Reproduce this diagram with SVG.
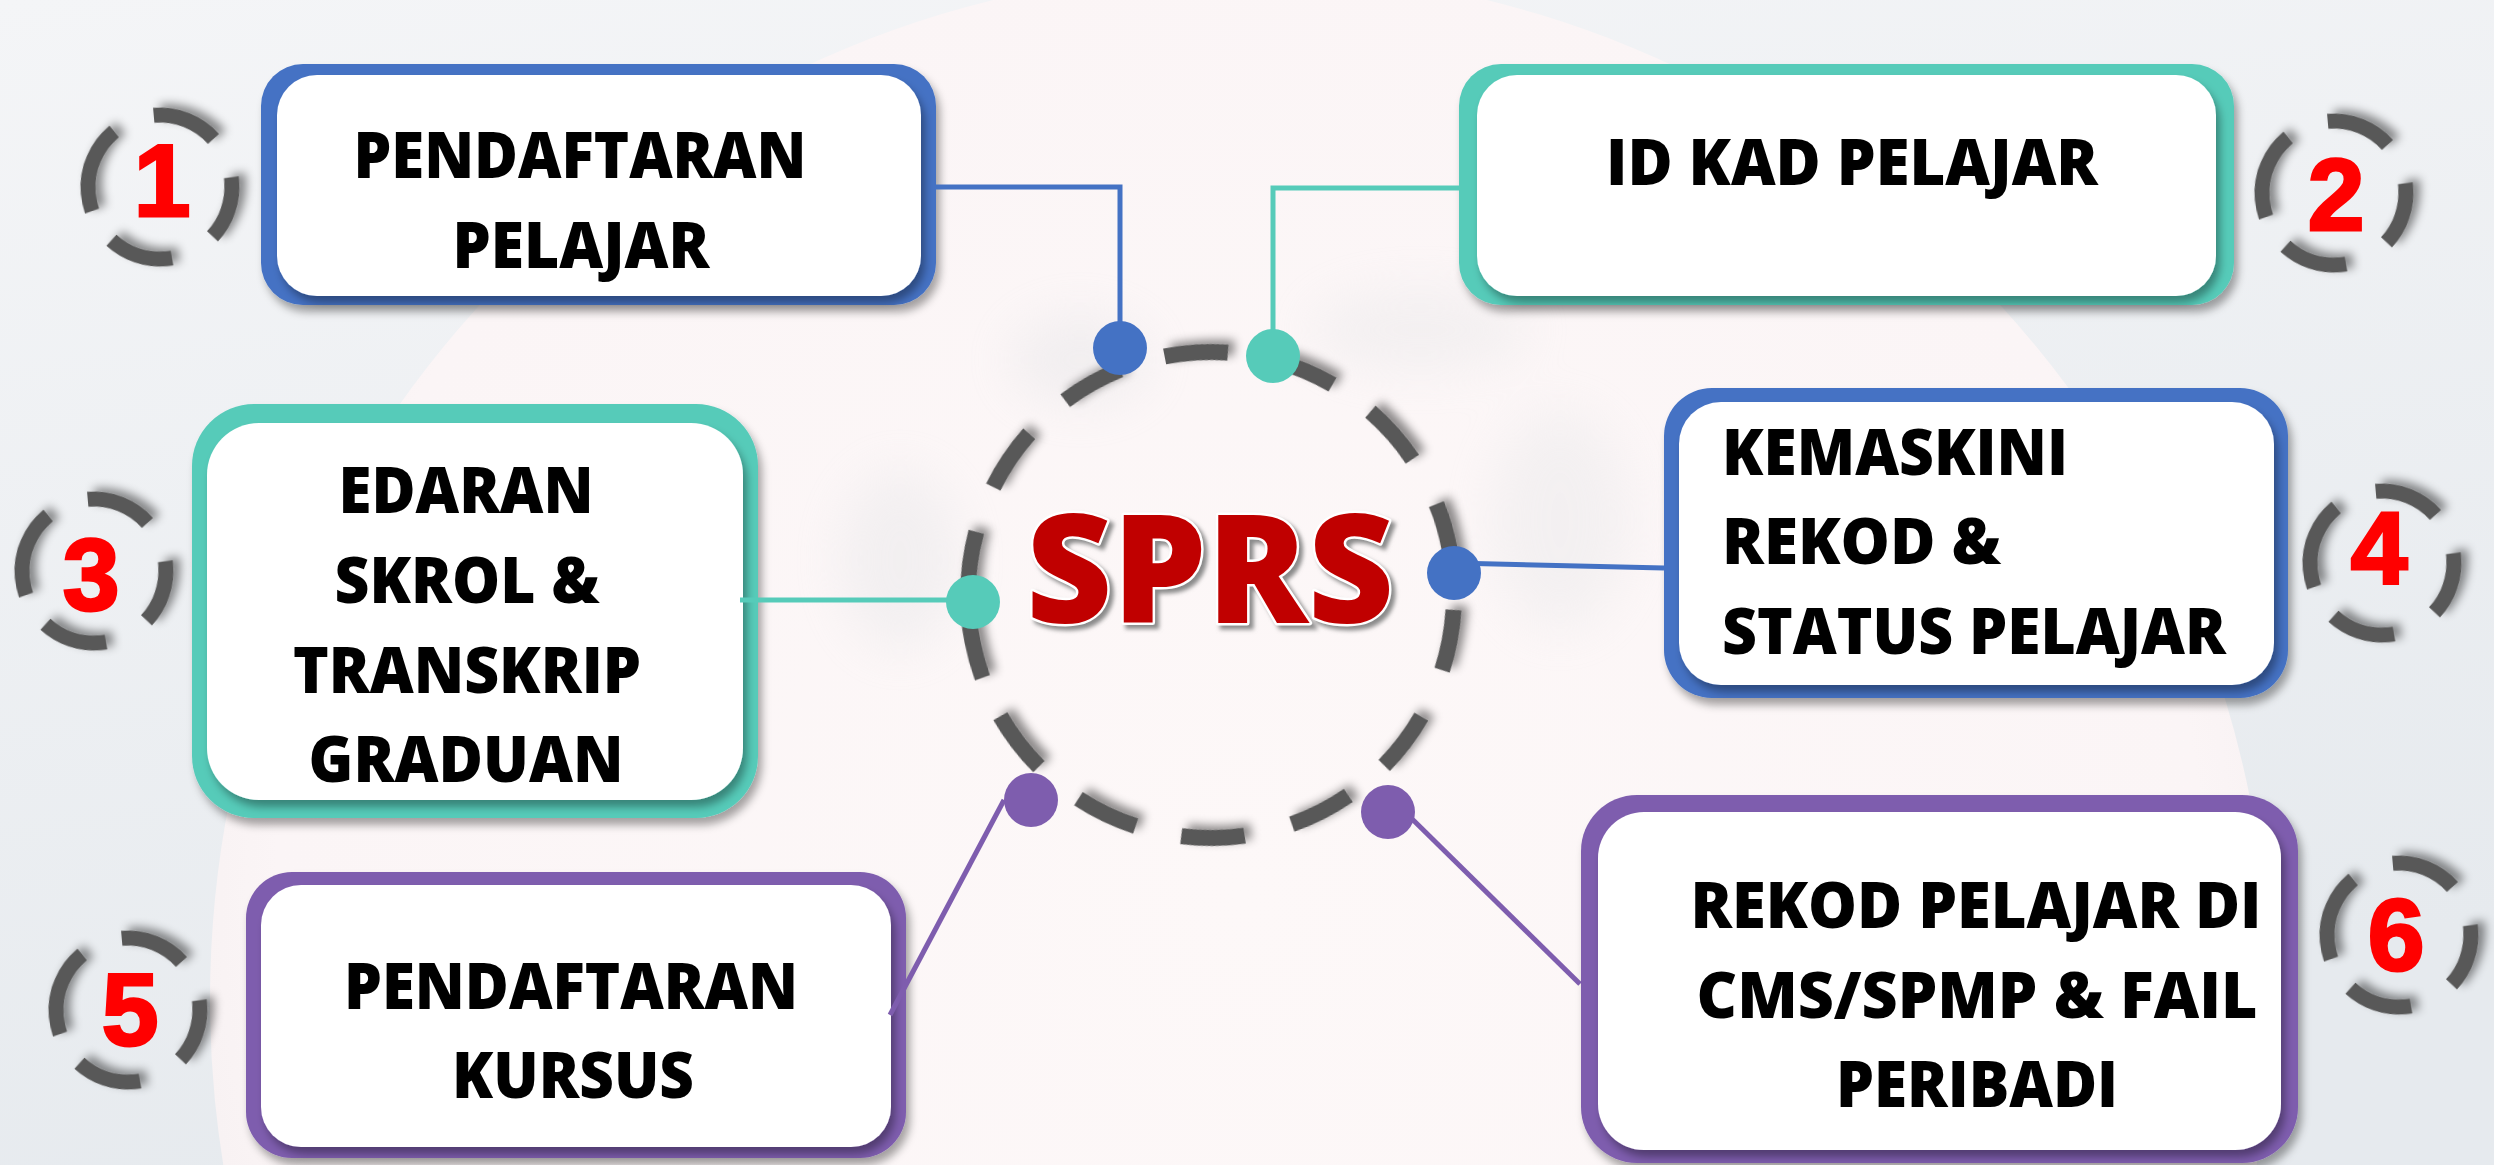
<svg xmlns="http://www.w3.org/2000/svg" width="2494" height="1165" viewBox="0 0 2494 1165">
  <defs>
    <linearGradient id="bg" x1="0" y1="0" x2="0.3" y2="1">
      <stop offset="0" stop-color="#f4f5f7"/>
      <stop offset="1" stop-color="#e6eaee"/>
    </linearGradient>
    <radialGradient id="globe" cx="0.5" cy="0.45" r="0.55">
      <stop offset="0" stop-color="#fdf8f8"/>
      <stop offset="0.85" stop-color="#fbf5f6"/>
      <stop offset="1" stop-color="#f5eff0"/>
    </radialGradient>
    <filter id="boxShadow" x="-10%" y="-10%" width="125%" height="130%">
      <feDropShadow dx="4" dy="7" stdDeviation="4" flood-color="#000" flood-opacity="0.35"/>
    </filter>
    <filter id="dashShadow" x="-20%" y="-20%" width="140%" height="140%">
      <feDropShadow dx="3" dy="7" stdDeviation="5" flood-color="#000" flood-opacity="0.45"/>
    </filter>
    <filter id="soft" x="-20%" y="-20%" width="140%" height="140%">
      <feGaussianBlur stdDeviation="2"/>
    </filter>
    <filter id="blob" x="-50%" y="-50%" width="200%" height="200%">
      <feGaussianBlur stdDeviation="25"/>
    </filter>
  </defs>
  <style>
    .outer-blue { fill: #4472c4; }
    .outer-teal { fill: #56cbb9; }
    .outer-purple { fill: #7e5dae; }
    .inner { fill: #ffffff; }
    .label { font-family: "Open Sans", "Liberation Sans", sans-serif; font-weight: 800; font-size: 64px; fill: #000000; }
    .mid { text-anchor: middle; }
    .num { font-family: "Liberation Sans", Arial, sans-serif; font-weight: 700; font-size: 102px; fill: #ff0000; stroke: #ff0000; stroke-width: 3; text-anchor: middle; }
    .ring { fill: none; stroke: #595959; stroke-width: 15; stroke-dasharray: 66.6 42.7 64.1 46.5 65.3 35.2 88 44; }
    .hubring { fill: none; stroke: #595959; stroke-width: 16; stroke-dasharray: 63.6 46.65 63.6 46.65 63.6 50.9 63.6 44.5 61.5 50.9 61.5 46.65 63.6 48.8 63.6 46.65 63.6 50.9 63.6 42.4 63.6 21.2 63.6 47.9 64.5 48.8 63.6 46.65; }
    .c-blue { stroke: #4472c4; }
    .c-teal { stroke: #56cbb9; }
    .c-purple { stroke: #7e5dae; }
    .conn { fill: none; stroke-width: 5; }
    .dot-blue { fill: #4472c4; }
    .dot-teal { fill: #56cbb9; }
    .dot-purple { fill: #7e5dae; }
  </style>

  <!-- background -->
  <rect x="0" y="0" width="2494" height="1165" fill="url(#bg)"/>
  <circle cx="1240" cy="1000" r="1030" fill="url(#globe)"/>
  <g opacity="0.3" filter="url(#blob)">
    <ellipse cx="1080" cy="360" rx="70" ry="45" fill="#d9dcdf"/>
    <ellipse cx="1420" cy="330" rx="110" ry="40" fill="#dfe1e3"/>
    <ellipse cx="900" cy="560" rx="60" ry="90" fill="#dcdfe2"/>
    <ellipse cx="1560" cy="520" rx="70" ry="110" fill="#e0e2e4"/>
  </g>

  <!-- node 1 -->
  <g id="node1">
    <rect class="outer-blue" x="261" y="64" width="675" height="241" rx="42" filter="url(#boxShadow)"/>
    <rect class="inner" x="277" y="75" width="644" height="221" rx="40" filter="url(#boxShadow)"/>
    <text class="label mid" x="580" y="178" textLength="453" lengthAdjust="spacingAndGlyphs">PENDAFTARAN</text>
    <text class="label mid" x="581" y="268" textLength="257" lengthAdjust="spacingAndGlyphs">PELAJAR</text>
  </g>
  <g id="num1">
    <circle class="ring" cx="160" cy="187" r="72" transform="rotate(-95 160 187)" filter="url(#dashShadow)"/>
    <text class="num" x="162" y="216">1</text>
  </g>

  <!-- node 2 -->
  <g id="node2">
    <rect class="outer-teal" x="1459" y="64" width="775" height="241" rx="42" filter="url(#boxShadow)"/>
    <rect class="inner" x="1477" y="75" width="739" height="221" rx="40" filter="url(#boxShadow)"/>
    <text class="label mid" x="1852" y="185" textLength="492" lengthAdjust="spacingAndGlyphs">ID KAD PELAJAR</text>
  </g>
  <g id="num2">
    <circle class="ring" cx="2334" cy="193" r="72" transform="rotate(-95 2334 193)" filter="url(#dashShadow)"/>
    <text class="num" x="2336" y="230">2</text>
  </g>

  <!-- node 3 -->
  <g id="node3">
    <rect class="outer-teal" x="192" y="404" width="566" height="414" rx="62" filter="url(#boxShadow)"/>
    <rect class="inner" x="207" y="423" width="536" height="377" rx="52" filter="url(#boxShadow)"/>
    <text class="label mid" x="466" y="513" textLength="255" lengthAdjust="spacingAndGlyphs">EDARAN</text>
    <text class="label mid" x="467" y="603" textLength="265" lengthAdjust="spacingAndGlyphs">SKROL &amp;</text>
    <text class="label mid" x="467" y="693" textLength="348" lengthAdjust="spacingAndGlyphs">TRANSKRIP</text>
    <text class="label mid" x="466" y="782" textLength="315" lengthAdjust="spacingAndGlyphs">GRADUAN</text>
  </g>
  <g id="num3">
    <circle class="ring" cx="94" cy="571" r="72" transform="rotate(-95 94 571)" filter="url(#dashShadow)"/>
    <text class="num" x="91" y="610">3</text>
  </g>

  <!-- node 4 -->
  <g id="node4">
    <rect class="outer-blue" x="1664" y="388" width="624" height="310" rx="48" filter="url(#boxShadow)"/>
    <rect class="inner" x="1679" y="402" width="595" height="283" rx="42" filter="url(#boxShadow)"/>
    <text class="label" x="1722" y="475" textLength="346" lengthAdjust="spacingAndGlyphs">KEMASKINI</text>
    <text class="label" x="1722" y="564" textLength="279" lengthAdjust="spacingAndGlyphs">REKOD &amp;</text>
    <text class="label" x="1722" y="654" textLength="504" lengthAdjust="spacingAndGlyphs">STATUS PELAJAR</text>
  </g>
  <g id="num4">
    <circle class="ring" cx="2382" cy="563" r="72" transform="rotate(-95 2382 563)" filter="url(#dashShadow)"/>
    <text class="num" x="2379" y="583">4</text>
  </g>

  <!-- node 5 -->
  <g id="node5">
    <rect class="outer-purple" x="246" y="872" width="660" height="286" rx="46" filter="url(#boxShadow)"/>
    <rect class="inner" x="261" y="885" width="630" height="262" rx="40" filter="url(#boxShadow)"/>
    <text class="label mid" x="571" y="1009" textLength="454" lengthAdjust="spacingAndGlyphs">PENDAFTARAN</text>
    <text class="label mid" x="573" y="1098" textLength="242" lengthAdjust="spacingAndGlyphs">KURSUS</text>
  </g>
  <g id="num5">
    <circle class="ring" cx="128" cy="1010" r="72" transform="rotate(-95 128 1010)" filter="url(#dashShadow)"/>
    <text class="num" x="130" y="1045">5</text>
  </g>

  <!-- node 6 -->
  <g id="node6">
    <rect class="outer-purple" x="1581" y="795" width="717" height="368" rx="56" filter="url(#boxShadow)"/>
    <rect class="inner" x="1598" y="812" width="683" height="338" rx="46" filter="url(#boxShadow)"/>
    <text class="label mid" x="1976" y="928" textLength="571" lengthAdjust="spacingAndGlyphs">REKOD PELAJAR DI</text>
    <text class="label mid" x="1977" y="1018" textLength="561" lengthAdjust="spacingAndGlyphs">CMS/SPMP &amp; FAIL</text>
    <text class="label mid" x="1977" y="1107" textLength="282" lengthAdjust="spacingAndGlyphs">PERIBADI</text>
  </g>
  <g id="num6">
    <circle class="ring" cx="2399" cy="935" r="72" transform="rotate(-95 2399 935)" filter="url(#dashShadow)"/>
    <text class="num" x="2396" y="970">6</text>
  </g>

  <!-- hub ring -->
  <g id="hub-ring">
    <circle class="hubring" cx="1211" cy="595" r="243" transform="rotate(-101 1211 595)" filter="url(#dashShadow)"/>
  </g>

  <!-- connectors -->
  <g id="connectors">
    <polyline class="conn c-blue" points="936,187 1120,187 1120,348"/>
    <polyline class="conn c-teal" points="1459,188 1273,188 1273,355"/>
    <line class="conn c-teal" x1="740" y1="600" x2="973" y2="600"/>
    <line class="conn c-blue" x1="1454" y1="563" x2="1664" y2="568"/>
    <line class="conn c-purple" x1="1004" y1="800" x2="890" y2="1015"/>
    <line class="conn c-purple" x1="1405" y1="812" x2="1580" y2="984"/>
  </g>

  <!-- hub -->
  <g id="hub">
    <circle class="dot-blue" cx="1120" cy="348" r="27"/>
    <circle class="dot-teal" cx="1273" cy="356" r="27"/>
    <circle class="dot-teal" cx="973" cy="602" r="27"/>
    <circle class="dot-blue" cx="1454" cy="573" r="27"/>
    <circle class="dot-purple" cx="1031" cy="800" r="27"/>
    <circle class="dot-purple" cx="1388" cy="812" r="27"/>
    <text x="1214" y="627" text-anchor="middle" font-family="'Open Sans', 'Liberation Sans', sans-serif" font-weight="800" font-size="151" textLength="368" lengthAdjust="spacingAndGlyphs" fill="#8a8a8a" stroke="#8a8a8a" stroke-width="5" filter="url(#soft)">SPRS</text>
    <text x="1210" y="623" text-anchor="middle" font-family="'Open Sans', 'Liberation Sans', sans-serif" font-weight="800" font-size="151" textLength="368" lengthAdjust="spacingAndGlyphs" fill="#c00000" stroke="#ffffff" stroke-width="5" paint-order="stroke fill" stroke-linejoin="round">SPRS</text>
  </g>
</svg>
